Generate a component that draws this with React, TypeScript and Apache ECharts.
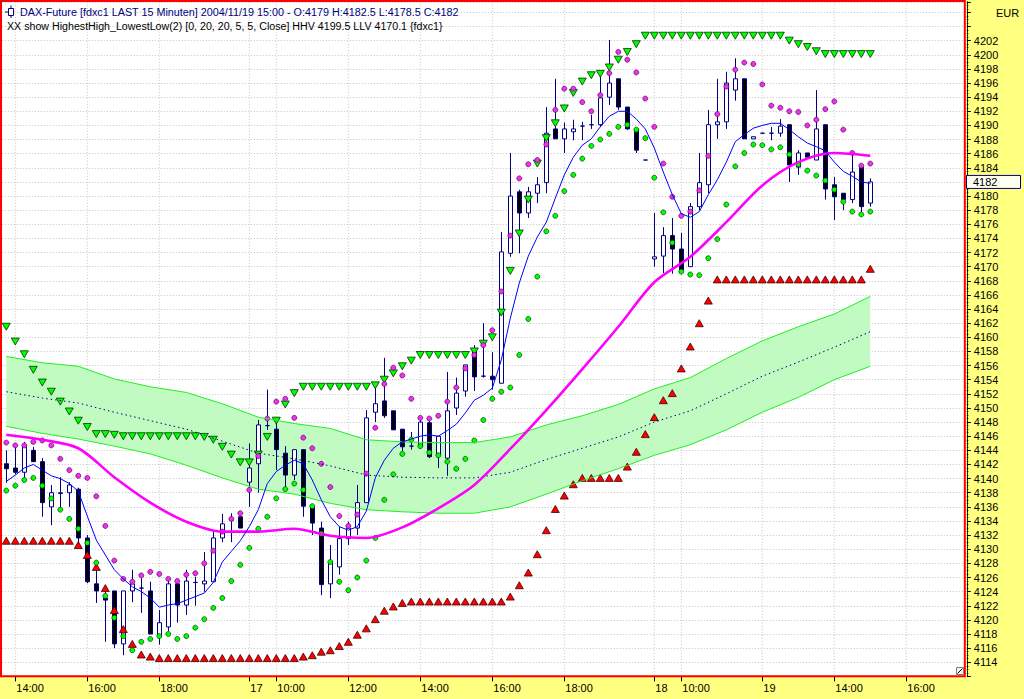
import React, { useEffect, useRef } from 'react';
import * as echarts from 'echarts';

// ---------- data ----------
// candles in ECharts order: [open, close, low, high]
const CANDLES: number[][] = [
  [4142.1, 4141.4, 4139.4, 4144.0], [4141.5, 4140.9, 4140.6, 4144.5], [4140.9, 4144.6, 4140.1, 4145.2],
  [4144.0, 4142.4, 4142.4, 4144.5], [4142.4, 4136.6, 4134.6, 4142.9], [4136.0, 4138.0, 4133.4, 4139.1],
  [4137.9, 4138.0, 4135.6, 4140.2], [4138.0, 4139.1, 4136.0, 4139.5], [4138.5, 4131.6, 4130.2, 4138.7],
  [4131.6, 4125.4, 4125.2, 4132.0], [4125.1, 4124.1, 4122.4, 4128.1], [4123.1, 4122.8, 4116.9, 4124.7],
  [4124.1, 4116.6, 4116.0, 4124.1], [4116.6, 4124.1, 4115.0, 4124.1], [4124.1, 4125.1, 4122.5, 4127.1],
  [4124.5, 4124.5, 4121.0, 4125.9], [4124.1, 4118.0, 4118.0, 4125.4], [4117.6, 4119.6, 4116.5, 4121.4],
  [4119.0, 4125.1, 4118.4, 4125.7], [4125.1, 4122.1, 4119.6, 4125.7], [4122.1, 4125.5, 4120.7, 4127.1],
  [4125.3, 4125.3, 4122.0, 4126.1], [4125.1, 4125.5, 4124.0, 4129.6], [4125.4, 4131.6, 4125.4, 4132.7],
  [4131.6, 4133.6, 4131.0, 4135.0], [4134.1, 4134.1, 4131.0, 4135.1], [4134.6, 4133.0, 4133.0, 4134.6],
  [4139.5, 4141.5, 4136.0, 4145.0], [4142.1, 4147.6, 4138.0, 4148.3], [4147.5, 4147.5, 4146.9, 4152.6],
  [4147.0, 4144.1, 4141.2, 4148.5], [4143.6, 4140.5, 4138.8, 4144.6], [4140.5, 4144.1, 4139.8, 4144.1],
  [4144.1, 4136.1, 4134.6, 4144.1], [4136.0, 4133.7, 4132.0, 4136.0], [4133.0, 4125.0, 4123.5, 4133.9],
  [4125.1, 4128.2, 4123.1, 4130.6], [4127.5, 4131.5, 4126.4, 4133.2], [4131.5, 4133.0, 4130.6, 4133.9],
  [4133.0, 4136.6, 4132.0, 4139.1], [4136.6, 4148.6, 4136.6, 4149.7], [4149.4, 4150.6, 4148.0, 4153.0],
  [4151.0, 4148.9, 4148.6, 4157.1], [4149.6, 4146.9, 4146.9, 4149.6], [4147.0, 4144.5, 4143.9, 4147.0],
  [4144.6, 4144.6, 4144.1, 4146.6], [4144.5, 4148.0, 4144.3, 4148.7], [4147.9, 4143.1, 4142.9, 4148.6],
  [4143.4, 4146.0, 4141.5, 4146.0], [4142.9, 4149.6, 4140.4, 4155.1], [4150.0, 4152.1, 4149.0, 4154.3],
  [4152.4, 4156.1, 4151.6, 4156.1], [4158.2, 4154.4, 4152.4, 4158.9], [4154.5, 4154.5, 4154.3, 4162.0],
  [4154.5, 4154.0, 4152.6, 4157.9], [4153.5, 4172.1, 4153.5, 4174.9], [4171.9, 4180.0, 4171.4, 4186.1],
  [4180.6, 4177.6, 4171.9, 4180.9], [4177.6, 4180.6, 4176.9, 4181.3], [4180.4, 4181.6, 4179.0, 4182.7],
  [4181.9, 4188.9, 4180.4, 4192.6], [4189.5, 4188.1, 4188.1, 4196.6], [4188.1, 4189.5, 4186.1, 4190.4],
  [4189.1, 4189.5, 4187.9, 4190.8], [4189.9, 4189.9, 4187.9, 4190.5], [4190.1, 4190.1, 4189.5, 4191.5],
  [4190.1, 4193.9, 4189.8, 4197.0], [4194.0, 4196.0, 4192.9, 4202.1], [4196.6, 4192.6, 4192.2, 4196.6],
  [4192.6, 4189.5, 4189.4, 4192.6], [4189.5, 4186.5, 4186.1, 4189.5], [4185.1, 4185.1, 4185.1, 4185.1],
  [4171.1, 4171.4, 4170.0, 4177.6], [4171.5, 4174.4, 4169.1, 4175.6], [4174.4, 4172.5, 4169.0, 4176.9],
  [4172.5, 4169.5, 4169.1, 4174.8], [4170.0, 4178.5, 4170.0, 4179.0], [4178.5, 4181.9, 4178.0, 4186.1],
  [4181.6, 4190.1, 4180.4, 4192.2], [4190.1, 4190.5, 4188.1, 4196.6], [4190.5, 4196.0, 4189.5, 4197.6],
  [4195.0, 4196.6, 4193.5, 4199.5], [4196.6, 4188.1, 4188.1, 4196.6], [4188.1, 4188.4, 4188.1, 4188.4],
  [4188.9, 4188.9, 4188.9, 4188.9], [4188.9, 4188.9, 4187.9, 4189.8], [4188.9, 4189.9, 4188.4, 4190.9],
  [4190.1, 4184.4, 4182.0, 4190.1], [4184.1, 4186.1, 4183.0, 4186.5], [4186.1, 4185.5, 4185.5, 4186.1],
  [4185.1, 4189.5, 4185.1, 4195.0], [4190.1, 4181.0, 4179.5, 4190.1], [4181.6, 4179.9, 4176.6, 4182.7],
  [4180.4, 4179.5, 4178.0, 4180.4], [4179.5, 4183.4, 4179.0, 4186.1], [4184.1, 4178.5, 4177.3, 4184.4],
  [4179.0, 4182.0, 4178.5, 4182.5],
];

const FUTURE_BARS = 10;

// x-axis tick labels: [bar index, label]
const TICK_LABELS: [number, string][] = [
  [1, '14:00'], [9, '16:00'], [17, '18:00'], [27, '17'], [30, '10:00'], [38, '12:00'], [46, '14:00'],
  [54, '16:00'], [62, '18:00'], [72, '18'], [75, '10:00'], [84, '19'], [92, '14:00'], [100, '16:00'],
];

// Highest-high trail (green down triangles)
const HHV_MARKS = [
  4161.5, 4159.4, 4157.6, 4155.4, 4153.6, 4152.3, 4150.9, 4149.5, 4148.2, 4147.3,
  4146.3, 4146.3, 4146.2, 4146.0, 4146.0, 4146.0, 4146.0, 4146.0, 4146.0, 4146.0,
  4146.0, 4146.0, 4145.9, 4145.5, 4144.5, 4143.4, 4142.3, 4142.3, 4143.4, 4145.9,
  4148.2, 4150.5, 4152.1, 4153.0, 4153.0, 4153.0, 4153.0, 4153.0, 4153.0, 4153.0,
  4153.0, 4153.2, 4154.0, 4154.9, 4155.9, 4156.7, 4157.5, 4157.5, 4157.5, 4157.5,
  4157.5, 4157.5, 4158.0, 4159.1, 4160.0, 4163.5, 4169.4, 4174.7, 4179.5, 4184.6,
  4188.2, 4190.3, 4192.4, 4194.6, 4196.2, 4197.1, 4197.3, 4198.2, 4199.3, 4200.4,
  4201.5, 4202.7, 4202.7, 4202.7, 4202.7, 4202.7, 4202.7, 4202.7, 4202.7, 4202.7,
  4202.7, 4202.7, 4202.7, 4202.7, 4202.7, 4202.7, 4202.7, 4202.0, 4201.5, 4201.1,
  4200.5, 4200.1, 4200.1, 4200.1, 4200.1, 4200.1, 4200.1,
];

// Lowest-low trail (red up triangles)
const LLV_MARKS = [
  4131.2, 4131.2, 4131.2, 4131.2, 4131.2, 4131.2, 4131.2, 4131.2, 4130.6, 4129.2,
  4127.5, 4124.5, 4121.4, 4118.7, 4116.6, 4115.1, 4114.8, 4114.6, 4114.6, 4114.6,
  4114.6, 4114.6, 4114.6, 4114.6, 4114.6, 4114.6, 4114.6, 4114.6, 4114.6, 4114.6,
  4114.6, 4114.6, 4114.6, 4114.8, 4115.0, 4115.5, 4115.7, 4116.3, 4116.9, 4117.9,
  4118.8, 4120.1, 4121.3, 4121.9, 4122.4, 4122.6, 4122.6, 4122.6, 4122.6, 4122.6,
  4122.6, 4122.6, 4122.6, 4122.6, 4122.6, 4122.6, 4123.3, 4124.9, 4126.7, 4129.3,
  4132.7, 4135.7, 4137.6, 4139.2, 4140.1, 4140.1, 4140.1, 4140.1, 4140.1, 4141.7,
  4143.8, 4146.3, 4148.7, 4151.1, 4152.1, 4155.6, 4158.7, 4162.0, 4165.2, 4168.2,
  4168.2, 4168.2, 4168.2, 4168.2, 4168.2, 4168.2, 4168.2, 4168.2, 4168.2, 4168.2,
  4168.2, 4168.2, 4168.2, 4168.2, 4168.2, 4168.2, 4169.7,
];

// upper dots (magenta)
const UPPER_DOTS = [
  4145.1, 4144.7, 4144.7, 4145.2, 4145.4, 4144.7, 4142.8, 4141.2, 4140.4, 4140.1,
  4137.5, 4133.3, 4128.4, 4125.8, 4125.4, 4126.3, 4126.8, 4126.5, 4125.8, 4125.5,
  4126.4, 4126.6, 4128.0, 4129.8, 4132.5, 4134.3, 4135.1, 4138.4, 4143.2, 4148.5,
  4150.9, 4151.3, 4148.6, 4145.8, 4144.3, 4142.1, 4138.8, 4134.7, 4133.3, 4134.9,
  4140.7, 4147.2, 4153.4, 4155.7, 4154.6, 4151.3, 4148.6, 4148.5, 4148.9, 4150.9,
  4152.9, 4155.6, 4157.5, 4158.9, 4161.0, 4166.5, 4174.4, 4182.5, 4184.5, 4185.1,
  4187.3, 4192.2, 4195.2, 4195.2, 4193.3, 4192.0, 4194.3, 4197.4, 4200.4, 4199.3,
  4197.5, 4193.8, 4189.8, 4184.6, 4179.9, 4177.2, 4177.8, 4180.8, 4185.7, 4191.6,
  4195.5, 4197.9, 4198.9, 4198.7, 4195.8, 4192.8, 4192.5, 4192.0, 4191.9, 4190.0,
  4190.8, 4192.3, 4193.4, 4189.4, 4186.1, 4184.3, 4184.6,
];

// lower dots (green)
const LOWER_DOTS = [
  4138.3, 4139.0, 4139.8, 4140.1, 4139.0, 4137.2, 4135.6, 4134.3, 4132.9, 4130.9,
  4128.1, 4123.4, 4120.3, 4117.7, 4115.7, 4116.9, 4117.3, 4117.7, 4118.0, 4117.3,
  4117.7, 4118.9, 4120.1, 4121.7, 4123.1, 4125.5, 4127.8, 4130.2, 4132.9, 4134.6,
  4137.2, 4138.5, 4139.3, 4138.4, 4136.1, 4132.2, 4128.2, 4125.4, 4124.2, 4126.0,
  4128.4, 4131.6, 4137.0, 4140.6, 4143.5, 4145.5, 4144.6, 4143.7, 4143.3, 4142.4,
  4141.4, 4142.8, 4145.4, 4148.3, 4151.3, 4152.3, 4152.9, 4157.5, 4162.6, 4168.6,
  4175.0, 4177.2, 4180.7, 4183.0, 4185.3, 4187.1, 4188.0, 4188.8, 4189.8, 4190.1,
  4189.4, 4188.2, 4182.6, 4177.7, 4173.4, 4169.3, 4168.9, 4168.8, 4171.2, 4173.9,
  4178.8, 4184.2, 4186.1, 4187.3, 4187.2, 4186.6, 4186.9, 4185.9, 4184.5, 4183.6,
  4182.9, 4182.2, 4180.9, 4179.2, 4177.8, 4177.4, 4177.8,
];

// short moving average (thin blue line)
const MA_SHORT = [
  4139.6, 4140.5, 4141.5, 4142.0, 4141.2, 4140.4, 4140.0, 4139.3, 4138.2, 4134.7,
  4131.3, 4129.2, 4127.1, 4125.8, 4124.7, 4124.0, 4123.1, 4121.8, 4122.1, 4122.3,
  4122.8, 4123.3, 4123.8, 4125.3, 4128.2, 4129.7, 4131.2, 4133.2, 4135.6, 4139.3,
  4141.0, 4141.9, 4142.6, 4142.1, 4139.8, 4137.0, 4134.6, 4133.2, 4132.7, 4133.2,
  4135.4, 4140.1, 4142.6, 4144.3, 4145.2, 4145.6, 4146.0, 4146.2, 4146.0, 4146.8,
  4147.7, 4149.3, 4151.1, 4151.8, 4152.8, 4156.8, 4162.7, 4167.7, 4171.5, 4174.2,
  4176.3, 4179.7, 4183.0, 4185.5, 4187.2, 4188.1, 4189.8, 4191.3, 4192.0, 4192.0,
  4190.9, 4189.5, 4186.8, 4183.4, 4180.2, 4177.5, 4177.0, 4177.8, 4180.2, 4182.3,
  4184.8, 4187.7, 4188.7, 4189.6, 4190.0, 4190.3, 4190.3, 4189.4, 4188.4, 4187.5,
  4187.0, 4186.4, 4184.8, 4183.5, 4182.8, 4182.0, 4181.8,
];

// sampled bar indices for the slow curves
const SLOW_X = [0, 4, 8, 12, 16, 20, 24, 28, 32, 36, 40, 44, 48, 52, 56, 60, 64, 68, 72, 76, 80, 84, 88, 92, 96];
const MA_LONG = [
  4146.2, 4145.5, 4144.3, 4140.2, 4136.6, 4133.9, 4132.5, 4132.5, 4132.9, 4131.9, 4131.6, 4133.1, 4135.8,
  4139.1, 4144.2, 4149.7, 4155.5, 4161.5, 4167.8, 4171.4, 4176.3, 4181.5, 4184.8, 4186.1, 4185.7,
];
const BAND_UPPER = [
  4157.3, 4156.4, 4155.9, 4154.1, 4153.0, 4152.2, 4150.6, 4148.7, 4147.8, 4147.1, 4145.5, 4145.2, 4145.1,
  4145.1, 4145.9, 4147.6, 4148.9, 4150.5, 4152.7, 4154.3, 4157.0, 4159.5, 4161.5, 4163.3, 4165.8,
];
const BAND_LOWER = [
  4147.4, 4146.4, 4145.6, 4144.6, 4143.5, 4141.9, 4140.1, 4138.5, 4137.8, 4136.5, 4135.6, 4135.3, 4135.1,
  4135.1, 4136.0, 4137.8, 4139.7, 4141.4, 4143.3, 4144.8, 4146.9, 4149.4, 4151.5, 4154.0, 4155.9,
];
const BAND_CENTER = [
  4152.3, 4151.4, 4150.7, 4149.4, 4148.2, 4147.0, 4145.3, 4143.6, 4142.8, 4141.8, 4140.5, 4140.2, 4140.1,
  4140.1, 4140.9, 4142.7, 4144.3, 4145.9, 4148.0, 4149.6, 4152.0, 4154.5, 4156.5, 4158.6, 4160.8,
];

const Y_MIN = 4112;
const Y_MAX = 4207.5;
const Y_LABEL_RANGE = [4114, 4202];

const TITLE_1 = 'DAX-Future [fdxc1 LAST 15 Minuten] 2004/11/19 15:00 - O:4179 H:4182.5 L:4178.5 C:4182';
const TITLE_2 = 'XX show HighestHigh_LowestLow(2) [0, 20, 20, 5, 5, Close] HHV 4199.5 LLV 4170.1 {fdxc1}';
const CURRENCY = 'EUR';

const FONT = '"Liberation Sans", Arial, sans-serif';

function measure(text: string, size: number): number {
  const ctx = document.createElement('canvas').getContext('2d');
  if (!ctx) return text.length * size * 0.5;
  ctx.font = `${size}px "Liberation Sans", Arial, sans-serif`;
  return ctx.measureText(text).width;
}

export default function App() {
  const ref = useRef<HTMLDivElement>(null);

  useEffect(() => {
    const el = ref.current;
    if (!el) return;
    const chart = echarts.init(el, null, { renderer: 'svg' });
    const n = CANDLES.length + FUTURE_BARS;
    const cats = Array.from({ length: n }, (_, i) => String(i));
    const tickMap = new Map<number, string>(TICK_LABELS);
    const isTick = (i: number) => tickMap.has(i);
    const idx = (arr: number[]) => arr.map((v, i) => [i, v]);
    const slow = (arr: number[]) => arr.map((v, k) => [SLOW_X[k], v]);

    const option: any = {
      animation: false,
      backgroundColor: '#FFFF80',
      grid: {
        left: 1.8, top: 1.8, width: 963, height: 674.6,
        show: true, backgroundColor: '#FFFFFF', borderWidth: 0, containLabel: false,
      },
      xAxis: {
        type: 'category', data: cats, boundaryGap: true,
        axisLine: { show: false },
        axisTick: { show: true, alignWithLabel: true, interval: (i: number) => isTick(i), length: 5, lineStyle: { color: '#000000' } },
        axisLabel: {
          interval: (i: number) => isTick(i),
          formatter: (_v: string, i: number) => tickMap.get(i) ?? '',
          align: 'left', margin: 6, fontSize: 11, color: '#000000', fontFamily: FONT, padding: [0, 0, 0, 1],
        },
        splitLine: { show: false },
      },
      yAxis: {
        type: 'value', position: 'right', min: Y_MIN, max: Y_MAX, interval: 2, offset: 2, scale: true,
        axisLine: { show: true, lineStyle: { color: '#000000', type: [1, 1], width: 1 } },
        axisTick: { show: true, length: 4, lineStyle: { color: '#000000' } },
        minorTick: { show: true, splitNumber: 4, length: 1.5, lineStyle: { color: '#000000' } },
        axisLabel: {
          margin: 7, fontSize: 11, color: '#000000', fontFamily: FONT,
          formatter: (v: number) => (v >= Y_LABEL_RANGE[0] && v <= Y_LABEL_RANGE[1] ? String(v) : ''),
        },
        splitLine: { show: true, lineStyle: { color: '#C4C4C4', type: [1, 2], width: 1 } },
      },
      series: [
        {
          type: 'custom', name: 'vgrid', silent: true,
          data: TICK_LABELS.map(([i]) => [i, Y_MIN]),
          renderItem: (params: any, api: any) => {
            const x = api.coord([api.value(0), Y_MIN])[0];
            const cs = params.coordSys;
            return {
              type: 'line',
              shape: { x1: x, y1: cs.y, x2: x, y2: cs.y + cs.height },
              style: { stroke: '#C4C4C4', lineWidth: 1, lineDash: [1, 2] },
            };
          },
        },
        {
          type: 'custom', name: 'band', silent: true,
          data: [[SLOW_X[0], BAND_CENTER[0]]],
          renderItem: (_params: any, api: any) => {
            const up = SLOW_X.map((x, k) => api.coord([x, BAND_UPPER[k]]));
            const lo = SLOW_X.map((x, k) => api.coord([x, BAND_LOWER[k]])).reverse();
            return { type: 'polygon', shape: { points: up.concat(lo) }, style: { fill: '#C2FBC2' } };
          },
        },
        { type: 'line', name: 'upper', data: slow(BAND_UPPER), symbol: 'none', silent: true, lineStyle: { color: '#22EE22', width: 1 } },
        { type: 'line', name: 'lower', data: slow(BAND_LOWER), symbol: 'none', silent: true, lineStyle: { color: '#22EE22', width: 1 } },
        { type: 'line', name: 'center', data: slow(BAND_CENTER), symbol: 'none', silent: true, lineStyle: { color: '#000080', width: 1, type: [1.5, 3] } },
        { type: 'line', name: 'maLong', data: slow(MA_LONG), symbol: 'none', smooth: 0.3, silent: true, lineStyle: { color: '#FF00FF', width: 2.6 } },
        { type: 'line', name: 'maShort', data: idx(MA_SHORT), symbol: 'none', silent: true, lineStyle: { color: '#0000FF', width: 1 } },
        {
          type: 'candlestick', name: 'fdxc1', data: CANDLES, barWidth: 5, silent: true,
          itemStyle: {
            color: '#FFFFFF', color0: '#000000',
            borderColor: '#000080', borderColor0: '#000080', borderColorDoji: '#000080', borderWidth: 1,
          },
        },
        {
          type: 'scatter', name: 'hhv', data: idx(HHV_MARKS), symbol: 'triangle', symbolRotate: 180, symbolSize: [8, 7], silent: true,
          itemStyle: { color: '#00FF00', borderColor: '#003300', borderWidth: 0.8, opacity: 1 },
        },
        {
          type: 'scatter', name: 'llv', data: idx(LLV_MARKS), symbol: 'triangle', symbolSize: [8, 7], silent: true,
          itemStyle: { color: '#FF0000', borderColor: '#400000', borderWidth: 0.8, opacity: 1 },
        },
        {
          type: 'scatter', name: 'upperDots', data: idx(UPPER_DOTS), symbol: 'circle', symbolSize: 5, silent: true,
          itemStyle: { color: '#F030F0', borderColor: '#600060', borderWidth: 0.7, opacity: 1 },
        },
        {
          type: 'scatter', name: 'lowerDots', data: idx(LOWER_DOTS), symbol: 'circle', symbolSize: 5, silent: true,
          itemStyle: { color: '#00FF00', borderColor: '#004000', borderWidth: 0.7, opacity: 1 },
        },
      ],
    };
    chart.setOption(option);

    const lastClose = CANDLES[CANDLES.length - 1][1];
    const py = chart.convertToPixel({ yAxisIndex: 0 }, lastClose) as number;
    const s1 = 439 / measure(TITLE_1, 11.5);
    const s2 = 436 / measure(TITLE_2, 11.5);

    chart.setOption({
      graphic: [
        { type: 'rect', z: 100, silent: true, shape: { x: 1, y: 1, width: 963.8, height: 675.2 }, style: { fill: 'none', stroke: '#FF0000', lineWidth: 2 } },
        // header icon
        { type: 'rect', z: 101, silent: true, shape: { x: 8.5, y: 8.5, width: 5, height: 7 }, style: { fill: '#FFFFFF', stroke: '#000080', lineWidth: 1 } },
        { type: 'line', z: 101, silent: true, shape: { x1: 5, y1: 12, x2: 8.5, y2: 12 }, style: { stroke: '#000080', lineWidth: 1 } },
        { type: 'line', z: 101, silent: true, shape: { x1: 11, y1: 5.5, x2: 11, y2: 8.5 }, style: { stroke: '#000080', lineWidth: 1 } },
        { type: 'line', z: 101, silent: true, shape: { x1: 11, y1: 15.5, x2: 11, y2: 18 }, style: { stroke: '#000080', lineWidth: 1 } },
        {
          type: 'text', z: 101, silent: true, x: 20, y: 12, scaleX: s1,
          style: { text: TITLE_1, fill: '#000080', fontSize: 11.5, fontFamily: FONT, verticalAlign: 'middle', align: 'left' },
        },
        {
          type: 'text', z: 101, silent: true, x: 7, y: 26, scaleX: s2,
          style: { text: TITLE_2, fill: '#000000', fontSize: 11.5, fontFamily: FONT, verticalAlign: 'middle', align: 'left' },
        },
        {
          type: 'text', z: 101, silent: true, x: 996, y: 12.5,
          style: { text: CURRENCY, fill: '#000000', fontSize: 11, fontFamily: FONT, verticalAlign: 'middle', align: 'left' },
        },
        // current price box
        { type: 'rect', z: 101, silent: true, shape: { x: 966.5, y: py - 6.5, width: 54, height: 13 }, style: { fill: '#FFFFF0', stroke: '#000080', lineWidth: 1 } },
        {
          type: 'text', z: 102, silent: true, x: 973, y: py,
          style: { text: String(lastClose), fill: '#000000', fontSize: 11, fontFamily: FONT, verticalAlign: 'middle', align: 'left' },
        },
        // bottom-right resize icon
        { type: 'rect', z: 101, silent: true, shape: { x: 956.5, y: 667.5, width: 7, height: 7 }, style: { fill: '#F0F0F0', stroke: '#808080', lineWidth: 1 } },
        { type: 'line', z: 101, silent: true, shape: { x1: 957.5, y1: 673.5, x2: 962.5, y2: 668.5 }, style: { stroke: '#000000', lineWidth: 1 } },
      ],
    });

    return () => chart.dispose();
  }, []);

  return <div ref={ref} style={{ position: 'fixed', left: 0, top: 0, width: 1024, height: 699 }} />;
}
